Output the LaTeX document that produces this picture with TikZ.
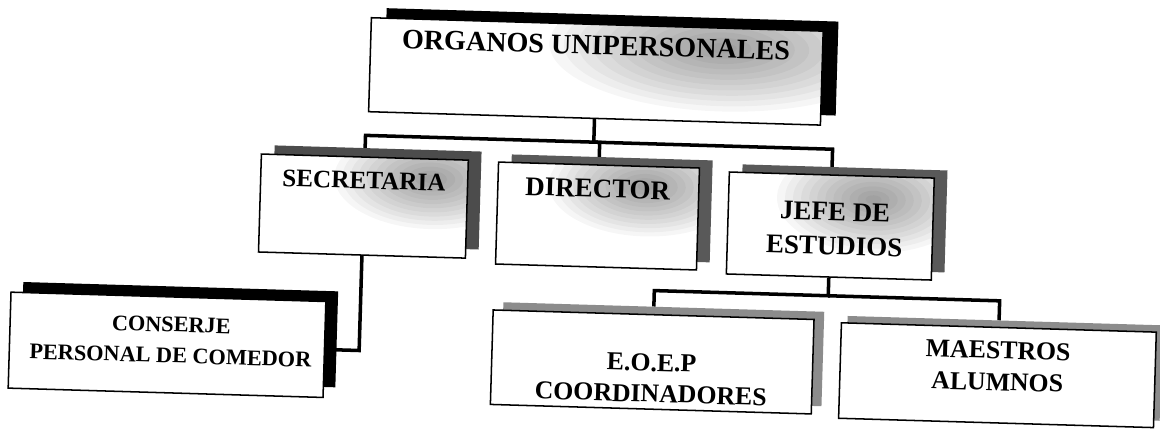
\documentclass[tikz,border=0pt]{standalone}
\usepackage{fontspec}
\setmainfont{Liberation Serif}
\begin{document}
\begin{tikzpicture}[x=0.03cm,y=-0.03cm,
  orgbox/.style={draw=black, line width=1.3pt, fill=white, rectangle, inner sep=0pt},
  shbox/.style={draw=none, fill=#1, rectangle, inner sep=0pt},
  sz/.style 2 args={minimum width=#1*0.03cm, minimum height=#2*0.03cm},
  tint/.style n args={4}{path picture={
      \foreach \k in {1,...,12}{
        \fill[black, fill opacity=0.036]
          ([xshift=#1,yshift=#2]path picture bounding box.north east)
          ellipse [x radius={#3*\k/12}, y radius={#4*\k/12}];}}},
  conn/.style={draw=black, line width=3pt},
  lbl/.style={inner sep=0pt, align=center, anchor=base},
]
\useasboundingbox (0,0) rectangle (1160,433);
\fill[white] (0,0) rectangle (1160,433);
\begin{scope}[transform canvas={rotate around={-1.7:(580,216)}}]
  % shadows
  \node[shbox=black,    sz={452}{94}]    (top-sh)  at (606.6,61) {};
  \node[shbox=black!70, sz={207}{98}]    (sec-sh)  at (376.2,203.5) {};
  \node[shbox=black!65, sz={201}{102}]   (dir-sh)  at (610.5,207.5) {};
  \node[shbox=black!65, sz={205}{102}]   (jefe-sh) at (843.5,210.6) {};
  \node[shbox=black,    sz={315}{96}]    (cons-sh) at (183,346.5) {};
  \node[shbox=black!45, sz={321}{94.5}]  (eoep-sh) at (666.5,351.75) {};
  \node[shbox=black!45, sz={315}{95.5}]  (mae-sh)  at (1008,355.75) {};
  % boxes
  \node[orgbox, tint={-3.0cm}{-0.6cm}{5.2cm}{1.9cm}, sz={452}{94}]  (top)  at (591.6,71) {};
  \node[orgbox, tint={-1.1cm}{-0.6cm}{2.9cm}{1.5cm}, sz={207}{98}]    (sec)  at (363.2,212.5) {};
  \node[orgbox, tint={-1.6cm}{-0.6cm}{2.9cm}{1.5cm}, sz={201}{102}]   (dir)  at (597.5,215.5) {};
  \node[orgbox, tint={-1.8cm}{-0.7cm}{2.9cm}{1.6cm}, sz={205}{102}] (jefe) at (830.5,218.6) {};
  \node[orgbox, sz={315}{96}]           (cons) at (171,357) {};
  \node[orgbox, sz={321}{94.5}]         (eoep) at (656.5,359.75) {};
  \node[orgbox, sz={315}{95.5}]         (mae)  at (1002,362.75) {};
  % connectors
  \draw[conn] (top.south) -- ++(0,23) coordinate (bus1) -| (sec-sh.north -| sec.north);
  \draw[conn] (bus1) -| (dir-sh.north -| dir.north);
  \draw[conn] (bus1) -| (jefe-sh.north -| jefe.north);
  \draw[conn] (sec.south) |- (cons.east);
  \draw[conn] (jefe.south) -- ++(0,18) coordinate (bus2) -| (eoep-sh.north -| eoep.north);
  \draw[conn] (bus2) -| (mae-sh.north -| mae.north);
  % labels (multi-line: anchor base = last line)
  \node[lbl, font=\fontsize{24}{29}\selectfont\bfseries] (topT) at (591,54) {ORGANOS UNIPERSONALES};
  \node[lbl, font=\fontsize{21.5}{29}\selectfont\bfseries] (secT) at (363,195) {SECRETARIA};
  \node[lbl, font=\fontsize{23}{29}\selectfont\bfseries] (dirT) at (597,197) {DIRECTOR};
  \node[lbl, font=\fontsize{23}{29}\selectfont\bfseries] (jefeT) at (835,247) {JEFE DE\\ESTUDIOS};
  \node[lbl, font=\fontsize{19}{26.5}\selectfont\bfseries] (consT) at (174.7,375) {CONSERJE\\PERSONAL DE COMEDOR};
  \node[lbl, font=\fontsize{22}{26.5}\selectfont\bfseries] (eoepT) at (656,400) {E.O.E.P\\COORDINADORES};
  \node[lbl, font=\fontsize{22}{27.3}\selectfont\bfseries] (maeT) at (1002,378) {MAESTROS\\ALUMNOS};
\end{scope}
\end{tikzpicture}
\end{document}
